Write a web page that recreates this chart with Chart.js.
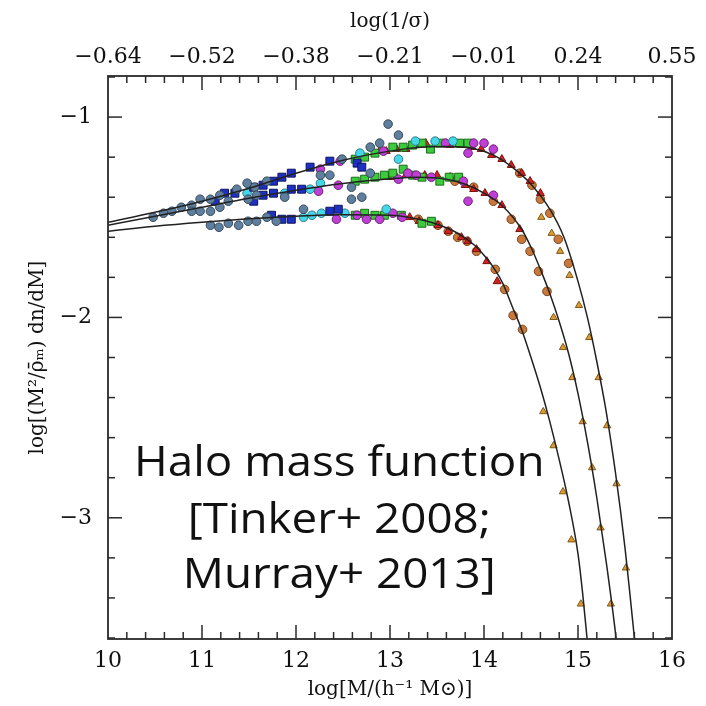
<!DOCTYPE html>
<html><head><meta charset="utf-8">
<script src="https://cdn.jsdelivr.net/npm/chart.js@4.4.1/dist/chart.umd.min.js"></script>
<style>html,body{margin:0;padding:0;background:#fff;}</style>
</head><body>
<canvas id="c" width="706" height="706"></canvas>
<script>
// ---- axes ----
const xTicks = [10, 11, 12, 13, 14, 15, 16];
const xTopLabels = ['−0.64', '−0.52', '−0.38', '−0.21', '−0.01', '0.24', '0.55'];
const yTicks = [-1, -2, -3];
const minorStep = 0.2;

// ---- model curves (three redshifts) ----
const curveAX = [10.0,10.5,11.0,11.5,12.0,12.5,13.0,13.3,13.6,13.9,14.1,14.3,14.5,14.7,14.85,15.0,15.1,15.2,15.3,15.4,15.5,15.55,15.6,15.64];
const curveAY = [-1.525,-1.475,-1.42,-1.355,-1.28,-1.215,-1.17,-1.152,-1.147,-1.158,-1.19,-1.25,-1.335,-1.46,-1.60,-1.82,-2.0,-2.22,-2.47,-2.78,-3.15,-3.37,-3.6,-3.8];
const curveBX = [10.0,10.5,11.0,11.5,12.0,12.5,13.0,13.3,13.6,13.8,14.0,14.2,14.4,14.5,14.6,14.7,14.8,14.9,15.0,15.1,15.2,15.3,15.4,15.45];
const curveBY = [-1.54,-1.495,-1.45,-1.405,-1.365,-1.332,-1.308,-1.30,-1.31,-1.335,-1.38,-1.445,-1.56,-1.65,-1.76,-1.88,-2.02,-2.18,-2.38,-2.62,-2.9,-3.22,-3.58,-3.8];
const curveCX = [10.0,10.5,11.0,11.5,12.0,12.5,13.0,13.25,13.5,13.7,13.9,14.0,14.1,14.2,14.3,14.4,14.5,14.6,14.7,14.8,14.9,15.0,15.05,15.1];
const curveCY = [-1.57,-1.545,-1.525,-1.508,-1.495,-1.488,-1.49,-1.505,-1.535,-1.575,-1.64,-1.69,-1.75,-1.83,-1.945,-2.06,-2.2,-2.35,-2.52,-2.71,-2.92,-3.18,-3.38,-3.62];

// ---- simulation points ----
const steelX = [10.48,10.59,10.68,10.78,10.89,10.89,10.98,10.98,11.09,11.09,11.19,11.19,11.28,11.37,11.48,11.56,11.49,11.58,11.69,11.88,11.09,11.18,11.28,11.39,11.49,11.58,11.69,11.79,12.08,12.26,12.36,12.49,12.59,12.59,12.70,12.79,12.79,12.89,12.98,13.09];
const steelY = [-1.50,-1.48,-1.47,-1.45,-1.44,-1.47,-1.47,-1.41,-1.47,-1.41,-1.45,-1.39,-1.42,-1.36,-1.33,-1.35,-1.41,-1.39,-1.32,-1.40,-1.54,-1.55,-1.53,-1.54,-1.52,-1.52,-1.50,-1.52,-1.46,-1.29,-1.29,-1.21,-1.35,-1.41,-1.40,-1.15,-1.28,-1.13,-1.035,-1.09];

const blueX = [11.14,11.24,11.35,11.55,11.65,11.76,11.85,11.95,12.15,12.36,12.65,12.70,11.55,11.65,11.76,11.95,12.06,11.74,11.85,11.95,12.36,12.45];
const blueY = [-1.42,-1.38,-1.38,-1.35,-1.34,-1.32,-1.30,-1.28,-1.25,-1.22,-1.23,-1.25,-1.42,-1.39,-1.38,-1.36,-1.36,-1.49,-1.51,-1.51,-1.47,-1.46];

const cyanX = [12.68,13.27,13.48,13.67,13.09,11.48,11.88,12.15,12.26,12.08,12.17,12.27,12.52,12.96];
const cyanY = [-1.18,-1.12,-1.12,-1.12,-1.21,-1.38,-1.38,-1.36,-1.33,-1.50,-1.49,-1.48,-1.48,-1.46];

const magentaX = [12.26,12.47,12.93,13.59,13.89,14.00,14.10,13.83,12.24,12.45,13.09,13.19,13.28,13.44,13.78,13.83,14.10,12.43,12.65,12.75,12.89,13.03,13.13];
const magentaY = [-1.26,-1.22,-1.17,-1.13,-1.13,-1.13,-1.16,-1.18,-1.37,-1.34,-1.31,-1.28,-1.29,-1.30,-1.32,-1.42,-1.39,-1.51,-1.49,-1.51,-1.51,-1.48,-1.50];

const greenX = [12.63,12.73,12.84,13.03,13.14,13.24,13.34,13.43,13.53,13.74,13.83,12.63,12.73,12.84,12.94,13.03,13.14,13.24,13.34,13.53,13.63,13.73,12.63,12.73,12.84,12.94,13.12,13.34,13.44];
const greenY = [-1.21,-1.20,-1.18,-1.15,-1.15,-1.14,-1.13,-1.16,-1.13,-1.13,-1.13,-1.32,-1.31,-1.30,-1.29,-1.28,-1.26,-1.29,-1.30,-1.32,-1.30,-1.30,-1.49,-1.48,-1.49,-1.49,-1.49,-1.53,-1.52];

const redX = [12.89,12.96,13.07,13.17,13.28,13.38,13.50,13.64,13.76,13.87,13.97,14.08,14.19,14.29,14.40,14.49,14.60,12.98,13.07,13.17,13.37,13.50,13.64,13.80,13.89,14.01,14.19,14.38,13.21,13.31,13.51,13.62,13.76,13.83,13.92,14.03,14.14];
const redY = [-1.17,-1.17,-1.16,-1.16,-1.14,-1.13,-1.13,-1.14,-1.14,-1.15,-1.16,-1.19,-1.21,-1.24,-1.28,-1.32,-1.38,-1.30,-1.30,-1.29,-1.29,-1.29,-1.30,-1.34,-1.36,-1.38,-1.44,-1.56,-1.50,-1.52,-1.54,-1.57,-1.60,-1.62,-1.66,-1.72,-1.82];

const orangeCX = [14.38,14.51,14.60,14.70,14.79,14.90,13.69,13.89,14.10,14.29,14.40,14.49,14.58,14.67,13.30,13.51,13.62,13.72,13.82,13.92,14.12,14.22,14.31,14.41];
const orangeCY = [-1.28,-1.34,-1.41,-1.48,-1.61,-1.73,-1.32,-1.35,-1.42,-1.51,-1.61,-1.67,-1.77,-1.87,-1.51,-1.54,-1.57,-1.60,-1.62,-1.67,-1.76,-1.86,-1.99,-2.06];

const orangeTX = [14.61,14.72,14.81,14.91,15.01,15.12,15.22,15.31,15.41,15.51,14.74,14.84,14.94,15.05,15.15,15.24,15.35,14.63,14.74,14.84,14.93,15.03];
const orangeTY = [-1.50,-1.58,-1.67,-1.79,-1.94,-2.10,-2.30,-2.54,-2.83,-3.25,-2.00,-2.15,-2.30,-2.52,-2.75,-3.05,-3.43,-2.47,-2.64,-2.87,-3.11,-3.43];

const noteLines = ['Halo mass function', '[Tinker+ 2008;', 'Murray+ 2013]'];

// ---- build ----
const pts = (xs, ys) => xs.map((x, i) => ({x: x, y: ys[i]}));
const serif = "'DejaVu Serif', 'Liberation Serif', serif";
const fmt = v => String(v).replace('-', '−');

function curve(xs, ys) {
  return {type: 'line', data: pts(xs, ys), borderColor: '#222', borderWidth: 1.5,
    pointRadius: 0, fill: false, cubicInterpolationMode: 'monotone', order: 0};
}
function marks(xs, ys, style, r, fill, edge) {
  return {type: 'scatter', data: pts(xs, ys), pointStyle: style, pointRadius: r,
    backgroundColor: fill, borderColor: edge, borderWidth: 1, order: 1};
}

const frame = {
  id: 'frame',
  afterDatasetsDraw(chart) {
    const {ctx, chartArea: a, scales} = chart;
    const xs = scales.x, ys = scales.y;
    ctx.save();
    ctx.strokeStyle = '#2a2a2a';
    ctx.lineWidth = 1.5;
    const seg = (x1, y1, x2, y2) => { ctx.beginPath(); ctx.moveTo(x1, y1); ctx.lineTo(x2, y2); ctx.stroke(); };
    const nX = Math.round((xs.max - xs.min) / minorStep);
    for (let i = 1; i < nX; i++) {
      const v = xs.min + i * minorStep;
      const major = Math.abs(v - Math.round(v)) < 1e-6;
      const L = major ? 14 : 7;
      const p = xs.getPixelForValue(v);
      seg(p, a.bottom, p, a.bottom - L);
      seg(p, a.top, p, a.top + L);
    }
    const y0 = Math.ceil(ys.min / minorStep) * minorStep;
    for (let v = y0; v < ys.max; v += minorStep) {
      const major = Math.abs(v - Math.round(v)) < 1e-6;
      const L = major ? 14 : 7;
      const p = ys.getPixelForValue(v);
      if (p >= a.bottom - 1 || p <= a.top + 1) continue;
      seg(a.left, p, a.left + L, p);
      seg(a.right, p, a.right - L, p);
    }
    ctx.lineWidth = 1.8;
    ctx.strokeRect(a.left, a.top, a.right - a.left, a.bottom - a.top);
    // annotation text
    ctx.fillStyle = '#111';
    ctx.font = "42px 'Open Sans', 'Noto Sans', sans-serif";
    ctx.textAlign = 'center';
    ctx.textBaseline = 'middle';
    const cx = xs.getPixelForValue(12.46);
    const rows = [ys.getPixelForValue(-2.73), ys.getPixelForValue(-3.015), ys.getPixelForValue(-3.29)];
    const sx = 1.09;
    ctx.translate(cx, 0);
    ctx.scale(sx, 1);
    noteLines.forEach((t, i) => ctx.fillText(t, 0, rows[i]));
    ctx.restore();
  }
};

new Chart(document.getElementById('c'), {
  data: {
    datasets: [
      curve(curveAX, curveAY), curve(curveBX, curveBY), curve(curveCX, curveCY),
      marks(steelX, steelY, 'circle', 4.3, '#5f7f9f', '#37495c'),
      marks(blueX, blueY, 'rect', 5.6, '#1f2fc2', '#0c145e'),
      marks(cyanX, cyanY, 'circle', 4.3, '#45d6e8', '#2b7d8c'),
      marks(magentaX, magentaY, 'circle', 4.3, '#c13fd6', '#6a2275'),
      marks(greenX, greenY, 'rect', 5.6, '#3ccb3c', '#1b6a1b'),
      marks(redX, redY, 'triangle', 4.6, '#d62020', '#7a1010'),
      marks(orangeCX, orangeCY, 'circle', 4.3, '#c8783a', '#7a4520'),
      marks(orangeTX, orangeTY, 'triangle', 4.2, '#dc9a30', '#80581a')
    ]
  },
  options: {
    responsive: false, animation: false,
    layout: {padding: {left: 0, right: 34, top: 0, bottom: 0}},
    plugins: {legend: {display: false}, tooltip: {enabled: false}},
    scales: {
      x: {
        type: 'linear', position: 'bottom', min: 10, max: 16,
        afterBuildTicks: s => { s.ticks = xTicks.map(v => ({value: v})); },
        afterFit: s => { s.height = 67; },
        grid: {display: false, drawTicks: false, tickLength: 0}, border: {display: false},
        ticks: {padding: 9, color: '#111', font: {family: serif, size: 22}, maxRotation: 0, autoSkip: false, callback: v => fmt(v)},
        title: {display: true, text: 'log[M/(h⁻¹ M⊙)]', color: '#111', font: {family: serif, size: 20}, padding: {top: 0, bottom: 4}}
      },
      x2: {
        type: 'linear', position: 'top', min: 10, max: 16,
        afterBuildTicks: s => { s.ticks = xTicks.map(v => ({value: v})); },
        afterFit: s => { s.height = 76; },
        grid: {display: false, drawTicks: false, tickLength: 0}, border: {display: false},
        ticks: {padding: 6, color: '#111', font: {family: serif, size: 22}, maxRotation: 0, autoSkip: false,
          callback: (v, i) => xTopLabels[xTicks.indexOf(v)]},
        title: {display: true, text: 'log(1/σ)', color: '#111', font: {family: serif, size: 20}, padding: {top: 10, bottom: 0}}
      },
      y: {
        type: 'linear', position: 'left', min: -3.605, max: -0.795,
        afterBuildTicks: s => { s.ticks = yTicks.map(v => ({value: v})); },
        afterFit: s => { s.width = 108; },
        grid: {display: false, drawTicks: false, tickLength: 0}, border: {display: false},
        ticks: {padding: 16, color: '#111', font: {family: serif, size: 22}, autoSkip: false, callback: v => fmt(v)},
        title: {display: true, text: 'log[(M²/ρ̄ₘ) dn/dM]', color: '#111', font: {family: serif, size: 20}, padding: {top: 26, bottom: 0}}
      }
    }
  },
  plugins: [frame]
});
</script>
</body></html>
